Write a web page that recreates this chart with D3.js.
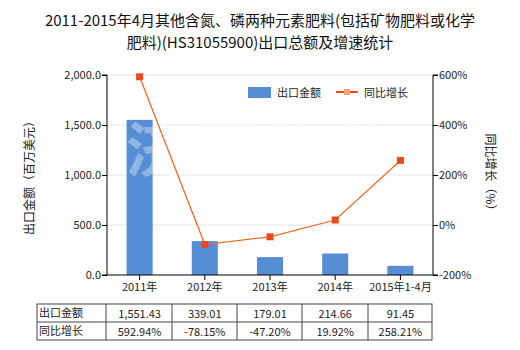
<!DOCTYPE html>
<html><head><meta charset="utf-8">
<script src="https://cdn.jsdelivr.net/npm/d3@7"></script>
<style>body{margin:0;background:#fff}svg{display:block;font-family:"Noto Sans CJK SC","Noto Sans",sans-serif}</style>
</head><body><svg id="c" width="520" height="350"></svg>
<script>
const categories = ["2011年","2012年","2013年","2014年","2015年1-4月"];
const exportValues = [1551.43, 339.01, 179.01, 214.66, 91.45];
const growthValues = [592.94, -78.15, -47.20, 19.92, 258.21];
const exportLabels = ["1,551.43","339.01","179.01","214.66","91.45"];
const growthLabels = ["592.94%","-78.15%","-47.20%","19.92%","258.21%"];
const leftTicks = [0, 500, 1000, 1500, 2000];
const rightTicks = [-200, 0, 200, 400, 600];
const titleLines = ["2011-2015年4月其他含氮、磷两种元素肥料(包括矿物肥料或化学","肥料)(HS31055900)出口总额及增速统计"];

const svg = d3.select("#c");
const L = 107, R = 433, T = 75, B = 275;
const x = d3.scaleBand().domain(categories).range([L, R]).paddingInner(0.6).paddingOuter(0.3);
const yL = d3.scaleLinear().domain([0, 2000]).range([B, T]);
const yR = d3.scaleLinear().domain([-200, 600]).range([B, T]);
const cx = d => x(d) + x.bandwidth() / 2;

// title
svg.append("g").selectAll("text").data(titleLines).join("text")
  .attr("x", 260).attr("y", (d, i) => 26 + i * 22).attr("text-anchor", "middle")
  .attr("font-size", 15).attr("fill", "#111").text(d => d);

// gridlines
svg.append("g").selectAll("line").data(leftTicks.slice(1)).join("line")
  .attr("x1", L).attr("x2", R).attr("y1", d => yL(d)).attr("y2", d => yL(d))
  .attr("stroke", "#e4e4e4").attr("stroke-width", 1);

// bars
svg.append("g").selectAll("rect").data(categories).join("rect")
  .attr("x", d => x(d)).attr("width", x.bandwidth())
  .attr("y", (d, i) => yL(exportValues[i])).attr("height", (d, i) => B - yL(exportValues[i]))
  .attr("fill", "#558ed5");

// watermark
svg.append("text").attr("x", 270).attr("y", 172).attr("text-anchor", "middle")
  .attr("font-size", 60).attr("font-weight", "bold").attr("fill", "#fff").attr("opacity", 0.35)
  .attr("letter-spacing", 12).text("济研咨询");

// axes
const axL = svg.append("g").attr("transform", `translate(${L},0)`)
  .call(d3.axisLeft(yL).tickValues(leftTicks).tickSize(5).tickFormat(d3.format(",.1f")));
const axR = svg.append("g").attr("transform", `translate(${R},0)`)
  .call(d3.axisRight(yR).tickValues(rightTicks).tickSize(5).tickFormat(d => d + "%"));
const axB = svg.append("g").attr("transform", `translate(0,${B})`)
  .call(d3.axisBottom(x).tickSize(5));
[axL, axR, axB].forEach(a => {
  a.selectAll("path,line").attr("stroke", "#000");
  a.selectAll("text").attr("font-size", 11).attr("fill", "#222")
   .attr("font-family", '"Noto Sans CJK SC","DejaVu Sans",sans-serif');
});
axL.select(".domain").attr("d", `M-5,${T}H0V${B}H-5`);
axR.select(".domain").attr("d", `M5,${T}H0V${B}H5`);
axB.select(".domain").attr("d", `M${L},0H${R}`);
axL.selectAll("text").attr("x", -6);
axR.selectAll("text").attr("x", 6);

// line
const line = d3.line().x((d, i) => cx(categories[i])).y(d => yR(d));
svg.append("path").datum(growthValues).attr("d", line)
  .attr("fill", "none").attr("stroke", "#ee6a2a").attr("stroke-width", 1.3);
svg.append("g").selectAll("rect").data(growthValues).join("rect")
  .attr("x", (d, i) => cx(categories[i]) - 3.5).attr("y", d => yR(d) - 3.5)
  .attr("width", 7).attr("height", 7).attr("fill", "#e84a1a");

// axis titles
svg.append("text").attr("transform", "translate(34,175) rotate(-90)").attr("text-anchor", "middle")
  .attr("font-size", 12).attr("fill", "#222").text("出口金额（百万美元）");
svg.append("text").attr("transform", "translate(486,175) rotate(90)").attr("text-anchor", "middle")
  .attr("font-size", 12).attr("fill", "#222").text("同比增长（%）");

// legend
const lg = svg.append("g");
lg.append("rect").attr("x", 248).attr("y", 87).attr("width", 23).attr("height", 11).attr("fill", "#558ed5");
lg.append("text").attr("x", 277).attr("y", 96.5).attr("font-size", 11).attr("fill", "#222").text("出口金额");
lg.append("line").attr("x1", 336).attr("x2", 358).attr("y1", 92).attr("y2", 92).attr("stroke", "#e84a1a").attr("stroke-width", 2);
lg.append("rect").attr("x", 344).attr("y", 89).attr("width", 6).attr("height", 6).attr("fill", "#f5a36c");
lg.append("text").attr("x", 364).attr("y", 96.5).attr("font-size", 11).attr("fill", "#222").text("同比增长");

// table
const tT = 304, tM = 322, tB = 340, tL = 37, tR = 432;
const tg = svg.append("g");
const colLines = [tL, 106, 172, 237, 302, 368, tR];
tg.append("rect").attr("x", tL).attr("y", tT).attr("width", tR - tL).attr("height", tB - tT)
  .attr("fill", "none").attr("stroke", "#444");
tg.append("line").attr("x1", tL).attr("x2", tR).attr("y1", tM).attr("y2", tM).attr("stroke", "#444");
tg.selectAll("line.v").data(colLines.slice(1, -1)).join("line").attr("class", "v")
  .attr("x1", d => d).attr("x2", d => d).attr("y1", tT).attr("y2", tB).attr("stroke", "#444");
tg.append("text").attr("x", 39).attr("y", 317).attr("font-size", 11).attr("fill", "#222").text("出口金额");
tg.append("text").attr("x", 39).attr("y", 335).attr("font-size", 11).attr("fill", "#222").text("同比增长");
tg.selectAll("text.a").data(exportLabels).join("text").attr("class", "a")
  .attr("x", (d, i) => cx(categories[i])).attr("y", 318).attr("text-anchor", "middle")
  .attr("font-size", 11).attr("fill", "#222").text(d => d);
tg.selectAll("text.b").data(growthLabels).join("text").attr("class", "b")
  .attr("x", (d, i) => cx(categories[i])).attr("y", 336).attr("text-anchor", "middle")
  .attr("font-size", 11).attr("fill", "#222").text(d => d);
</script></body></html>
